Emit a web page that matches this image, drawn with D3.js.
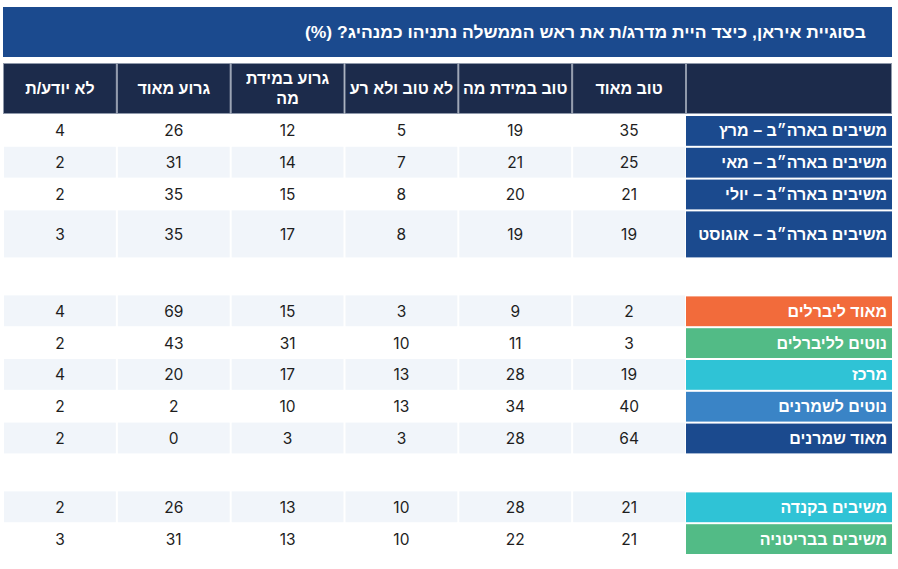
<!DOCTYPE html>
<html><head><meta charset="utf-8">
<script src="https://cdn.jsdelivr.net/npm/d3@7"></script>
<style>body{margin:0;background:#fff} svg{display:block}</style>
</head><body>
<svg id="c" width="898" height="569"></svg>
<script>
// ---------- DATA ----------
const title = "בסוגיית איראן, כיצד היית מדרג/ת את ראש הממשלה נתניהו כמנהיג? (%)";
const columns = ["טוב מאוד", "טוב במידת מה", "לא טוב ולא רע", "גרוע במידת מה", "גרוע מאוד", "לא יודע/ת"];
const rowLabels = [
  "משיבים בארה״ב – מרץ", "משיבים בארה״ב – מאי", "משיבים בארה״ב – יולי", "משיבים בארה״ב – אוגוסט",
  "מאוד ליברלים", "נוטים לליברלים", "מרכז", "נוטים לשמרנים", "מאוד שמרנים",
  "משיבים בקנדה", "משיבים בבריטניה"
];
const rowGroups = [0, 0, 0, 0, 1, 1, 1, 1, 1, 2, 2];
const veryGood     = [35, 25, 21, 19, 2, 3, 19, 40, 64, 21, 21];
const somewhatGood = [19, 21, 20, 19, 9, 11, 28, 34, 28, 28, 22];
const neutral      = [5, 7, 8, 8, 3, 10, 13, 13, 3, 10, 10];
const somewhatBad  = [12, 14, 15, 17, 15, 31, 17, 10, 3, 13, 13];
const veryBad      = [26, 31, 35, 35, 69, 43, 20, 2, 0, 26, 31];
const dontKnow     = [4, 2, 2, 3, 4, 2, 4, 2, 2, 2, 3];
const series = [veryGood, somewhatGood, neutral, somewhatBad, veryBad, dontKnow];

// ---------- STYLE / LAYOUT ----------
const labelColors = ["#1b4a8e", "#1b4a8e", "#1b4a8e", "#1b4a8e",
  "#f26b3b", "#52bb86", "#2fc3d6", "#3a84c6", "#1b4a8e", "#2fc3d6", "#52bb86"];
const headerWrap = {"גרוע במידת מה": ["גרוע במידת", "מה"]};
const HEB = "'Liberation Sans', Arial, 'DejaVu Sans', sans-serif";
const NUM = "Inter, Lato, 'Noto Sans', sans-serif";

const svg = d3.select("#c");
const left = 3, labelX = 686, right = 892;

const x = d3.scaleBand().domain(columns.slice().reverse()).range([left, labelX]).padding(0);

// row layout
const rowTop = 115, rowH = 31.8, tallH = 48, groupGap = 37;
const rows = [];
let yCur = rowTop, stripeIdx = 0;
rowLabels.forEach((lab, i) => {
  if (i > 0 && rowGroups[i] !== rowGroups[i - 1]) { yCur += groupGap; stripeIdx++; }
  const h = (i === 3) ? tallH : rowH;
  rows.push({label: lab, i, y: yCur, h, stripe: stripeIdx % 2 === 1, color: labelColors[i]});
  yCur += h; stripeIdx++;
});

// title bar
svg.append("rect").attr("x", 3).attr("y", 7).attr("width", right - 3).attr("height", 50).attr("fill", "#1b4a8e");
const tt = svg.append("text").attr("x", 866).attr("y", 38).attr("direction", "rtl").attr("text-anchor", "start")
  .attr("font-family", HEB).attr("font-weight", "bold").attr("font-size", 17).attr("fill", "#fff").text(title);
const tw = tt.node().getComputedTextLength();
if (Math.abs(tw - 561) > 8) tt.attr("textLength", 561).attr("lengthAdjust", "spacingAndGlyphs");

// header
const hy = 63, hh = 51;
const hg = svg.append("g");
hg.selectAll("rect.h").data(columns).join("rect")
  .attr("x", d => x(d) + 0.5).attr("y", hy + 0.5).attr("width", x.bandwidth() - 1).attr("height", hh - 1)
  .attr("fill", "#1c2b4b").attr("stroke", "#8f99ab").attr("stroke-width", 1);
hg.append("rect").attr("x", labelX + 0.5).attr("y", hy + 0.5).attr("width", right - labelX - 1).attr("height", hh - 1)
  .attr("fill", "#1c2b4b").attr("stroke", "#8f99ab").attr("stroke-width", 1);
hg.selectAll("text.h").data(columns).join("text")
  .attr("x", d => x(d) + x.bandwidth() / 2).attr("text-anchor", "middle").attr("direction", "rtl")
  .attr("font-family", HEB).attr("font-weight", "bold").attr("font-size", 16).attr("fill", "#fff")
  .each(function(d) {
    const lines = headerWrap[d] || [d];
    const t = d3.select(this);
    const cy = hy + hh / 2;
    lines.forEach((ln, k) => {
      t.append("tspan").attr("x", x(d) + x.bandwidth() / 2)
        .attr("y", cy + 5.5 + (k - (lines.length - 1) / 2) * 20).text(ln);
    });
  });

// data cells
const body = svg.append("g");
const rg = body.selectAll("g.row").data(rows).join("g");
rg.each(function(r) {
  const g = d3.select(this);
  columns.forEach((c, ci) => {
    g.append("rect").attr("x", x(c) + 1).attr("y", r.y).attr("width", x.bandwidth() - 2).attr("height", r.h - 1)
      .attr("fill", r.stripe ? "#f1f5fa" : "#ffffff");
    g.append("text").attr("x", x(c) + x.bandwidth() / 2).attr("y", r.y + r.h / 2 + 5.5)
      .attr("text-anchor", "middle").attr("font-family", NUM).attr("font-size", 15.5).attr("fill", "#1e1e1e")
      .text(series[ci][r.i]);
  });
  g.append("rect").attr("x", labelX).attr("y", r.y + 1).attr("width", right - labelX).attr("height", r.h - 2)
    .attr("fill", r.color);
  g.append("text").attr("x", right - 5).attr("y", r.y + r.h / 2 + 5.5).attr("direction", "rtl").attr("text-anchor", "start")
    .attr("font-family", HEB).attr("font-weight", "bold").attr("font-size", 16).attr("fill", "#fff").text(r.label);
});
</script>
</body></html>
